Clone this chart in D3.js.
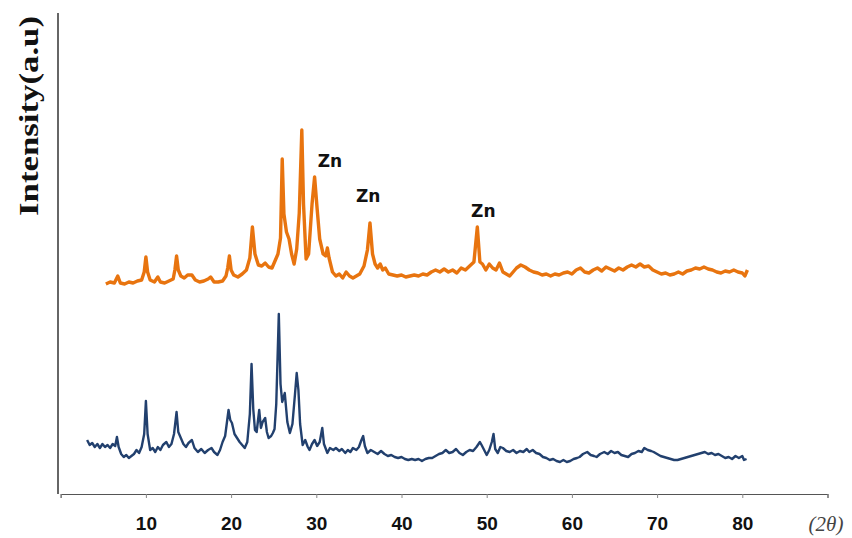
<!DOCTYPE html>
<html>
<head>
<meta charset="utf-8">
<script src="https://cdn.jsdelivr.net/npm/d3@7"></script>
<style>
  body { margin: 0; background: #fff; }
  svg { display: block; }
</style>
</head>
<body>
<svg></svg>
<script>
var width = 852;
var height = 538;

// orange pattern (top), [2theta, intensity]
var orangeData = [
  [5.3,210],[5.8,212],[6.3,211],[6.7,218],[7.0,211],[7.5,210],[8.0,212],[8.5,211],[9.0,213],[9.5,214],
  [9.8,222],[10.0,237],[10.2,222],[10.5,214],[11.0,212],[11.4,217],[11.7,212],[12.2,211],[12.7,213],[13.2,215],
  [13.4,224],[13.6,238],[13.8,224],[14.1,218],[14.5,216],[14.9,219],[15.4,219],[15.8,214],[16.3,212],[16.8,213],
  [17.3,215],[17.6,217],[18.0,212],[18.5,212],[19.0,213],[19.4,218],[19.6,226],[19.8,238],[20.0,224],[20.3,219],
  [20.8,217],[21.3,220],[21.8,224],[22.2,236],[22.5,267],[22.8,240],[23.2,229],[23.6,228],[24.0,231],[24.4,227],
  [24.8,226],[25.2,234],[25.5,240],[25.8,256],[26.0,335],[26.2,280],[26.5,262],[26.8,255],[27.1,240],[27.4,230],
  [27.7,245],[28.0,281],[28.3,364],[28.5,290],[28.8,235],[29.1,240],[29.5,290],[29.8,317],[30.1,285],[30.4,255],
  [30.8,240],[31.1,238],[31.3,246],[31.5,236],[31.9,222],[32.3,218],[32.7,220],[33.1,216],[33.5,222],[33.9,218],
  [34.3,216],[34.7,218],[35.1,220],[35.6,228],[36.0,244],[36.3,271],[36.6,240],[36.9,230],[37.2,226],[37.5,230],
  [37.8,224],[38.1,226],[38.5,220],[39.0,219],[39.5,218],[40.0,219],[40.5,217],[41.0,218],[41.5,219],[42.0,218],
  [42.5,220],[43.0,219],[43.5,222],[44.0,224],[44.5,222],[45.0,225],[45.5,222],[46.0,224],[46.5,221],[47.0,226],
  [47.5,224],[48.0,228],[48.5,232],[48.9,267],[49.2,232],[49.5,230],[49.9,224],[50.3,230],[50.7,226],[51.1,224],
  [51.5,231],[51.9,222],[52.3,220],[52.7,218],[53.1,222],[53.5,226],[54.0,229],[54.5,227],[55.0,224],[55.5,222],
  [56.0,221],[56.5,219],[57.0,220],[57.5,218],[58.0,220],[58.5,219],[59.0,221],[59.5,222],[60.0,220],[60.5,224],
  [61.0,226],[61.5,222],[62.0,221],[62.5,224],[63.0,226],[63.5,223],[64.0,227],[64.5,225],[65.0,223],[65.5,226],
  [66.0,224],[66.5,227],[67.0,229],[67.5,227],[68.0,230],[68.5,227],[69.0,228],[69.5,224],[70.0,222],[70.5,220],
  [71.0,221],[71.5,219],[72.0,220],[72.5,222],[73.0,220],[73.5,223],[74.0,224],[74.5,226],[75.0,225],[75.5,227],
  [76.0,225],[76.5,224],[77.0,222],[77.5,221],[78.0,223],[78.5,222],[79.0,224],[79.5,222],[80.0,221],[80.3,218],
  [80.6,224]
];

// blue pattern (bottom)
var blueData = [
  [3.1,54],[3.4,49],[3.7,51],[4.0,47],[4.3,50],[4.6,46],[4.9,50],[5.2,47],[5.5,49],[5.8,46],
  [6.1,50],[6.4,48],[6.6,57],[6.8,47],[7.1,40],[7.4,37],[7.7,39],[8.0,36],[8.3,38],[8.6,40],
  [8.9,44],[9.2,41],[9.5,47],[9.8,60],[10.0,93],[10.2,60],[10.5,44],[10.8,46],[11.1,42],[11.4,47],
  [11.7,44],[12.0,49],[12.4,52],[12.7,47],[13.0,50],[13.3,60],[13.6,82],[13.8,62],[14.1,56],[14.4,50],
  [14.7,47],[15.0,51],[15.4,54],[15.7,46],[16.1,42],[16.5,45],[16.9,41],[17.3,44],[17.7,46],[18.0,42],
  [18.4,39],[18.7,44],[19.0,52],[19.3,58],[19.7,84],[19.9,74],[20.1,71],[20.4,60],[20.7,56],[21.0,52],
  [21.3,49],[21.6,46],[21.9,52],[22.2,80],[22.4,130],[22.6,85],[22.8,64],[23.0,62],[23.3,84],[23.5,66],
  [23.7,72],[24.0,76],[24.2,62],[24.4,56],[24.7,58],[24.9,61],[25.1,65],[25.3,90],[25.6,180],[25.8,110],
  [26.0,92],[26.3,101],[26.6,72],[26.9,61],[27.2,70],[27.5,100],[27.7,121],[27.9,104],[28.1,70],[28.4,49],
  [28.7,54],[29.0,47],[29.2,44],[29.5,50],[29.8,54],[30.1,48],[30.4,52],[30.7,66],[30.9,50],[31.3,41],
  [31.6,46],[32.0,44],[32.3,46],[32.7,43],[33.0,45],[33.4,41],[33.7,44],[34.0,42],[34.3,46],[34.7,44],
  [35.0,47],[35.3,54],[35.5,58],[35.7,48],[36.0,41],[36.4,44],[36.8,42],[37.2,40],[37.6,43],[38.0,40],
  [38.4,38],[38.8,39],[39.2,37],[39.6,36],[40.0,37],[40.4,35],[40.8,34],[41.2,35],[41.6,34],[42.0,35],
  [42.4,33],[42.8,35],[43.2,36],[43.6,36],[44.0,38],[44.4,40],[44.8,41],[45.2,44],[45.6,41],[46.0,42],
  [46.4,45],[46.8,41],[47.2,39],[47.6,42],[48.0,44],[48.4,43],[48.8,47],[49.2,52],[49.4,49],[49.7,44],
  [50.0,39],[50.3,44],[50.6,52],[50.8,60],[51.0,45],[51.3,41],[51.6,47],[51.9,46],[52.3,43],[52.7,42],
  [53.1,44],[53.5,41],[53.9,43],[54.3,42],[54.7,45],[55.0,42],[55.4,44],[55.8,41],[56.2,40],[56.6,37],
  [57.0,36],[57.4,34],[57.8,35],[58.2,33],[58.6,32],[59.0,34],[59.4,32],[59.8,33],[60.2,35],[60.6,36],
  [60.9,37],[61.3,40],[61.8,42],[62.2,39],[62.6,38],[62.9,37],[63.3,40],[63.8,42],[64.2,40],[64.6,43],
  [65.0,41],[65.4,42],[65.8,39],[66.2,38],[66.6,37],[67.0,40],[67.4,41],[67.8,43],[68.2,42],[68.5,46],
  [68.9,44],[69.3,43],[69.6,42],[70.0,40],[70.4,38],[70.8,37],[71.2,36],[71.6,35],[72.0,34],[72.4,34],
  [72.8,35],[73.2,36],[73.6,37],[74.0,38],[74.4,39],[74.8,40],[75.2,41],[75.6,42],[76.0,40],[76.4,41],
  [76.8,39],[77.2,40],[77.6,38],[78.0,36],[78.4,37],[78.8,35],[79.2,38],[79.6,36],[80.0,38],[80.2,34],
  [80.5,35]
];

var xTicks = [0, 10, 20, 30, 40, 50, 60, 70, 80, 90];
var xLabels = ["", "10", "20", "30", "40", "50", "60", "70", "80", ""];

// Zn peak annotations (2theta, intensity of label baseline)
var znLabels = ["Zn", "Zn", "Zn"];
var znX = [31.6, 36.1, 49.6];
var znY = [327, 292, 277];

var svg = d3.select('svg')
    .attr('width', width)
    .attr('height', height);

var x = d3.scaleLinear().domain([0, 90]).range([60.7, 827.5]);
var y = d3.scaleLinear().domain([0, 480]).range([494, 14]);

var line = d3.line()
    .x(function (d) { return x(d[0]); })
    .y(function (d) { return y(d[1]); });

// y axis: plain line, no ticks
svg.append('line')
    .attr('x1', 58).attr('x2', 58)
    .attr('y1', y(481)).attr('y2', y(0))
    .attr('stroke', '#333')
    .attr('stroke-width', 1.5);

// x axis
var xAxis = d3.axisBottom(x)
    .tickValues(xTicks)
    .tickSize(4)
    .tickFormat(function (d, i) { return xLabels[i]; });

var gx = svg.append('g')
    .attr('transform', 'translate(0,' + y(0) + ')')
    .call(xAxis);

gx.select('.domain').attr('stroke', '#555').attr('stroke-width', 1.2);
gx.selectAll('.tick line').attr('stroke', '#888');
gx.selectAll('.tick text')
    .attr('dy', null)
    .attr('y', 36)
    .attr('fill', '#111')
    .style('font-family', 'Liberation Sans, Arial, sans-serif')
    .style('font-weight', 'bold')
    .style('font-size', '19px');

svg.append('text')
    .attr('x', 826)
    .attr('y', 531)
    .attr('text-anchor', 'middle')
    .attr('fill', '#444')
    .style('font-family', 'Liberation Serif, serif')
    .style('font-style', 'italic')
    .style('font-size', '21px')
    .text('(2θ)');

// y label
svg.append('text')
    .attr('transform', 'translate(38,116) rotate(-90)')
    .attr('text-anchor', 'middle')
    .attr('fill', '#111')
    .attr('textLength', 200)
    .attr('lengthAdjust', 'spacingAndGlyphs')
    .style('font-family', 'Liberation Serif, serif')
    .style('font-weight', 'bold')
    .style('font-size', '28px')
    .text('Intensity(a.u)');

// patterns
svg.append('path')
    .datum(blueData)
    .attr('d', line)
    .attr('fill', 'none')
    .attr('stroke', '#22406e')
    .attr('stroke-width', 2.4)
    .attr('stroke-linejoin', 'round');

svg.append('path')
    .datum(orangeData)
    .attr('d', line)
    .attr('fill', 'none')
    .attr('stroke', '#e8740f')
    .attr('stroke-width', 3.4)
    .attr('stroke-linejoin', 'round');

svg.selectAll('.zn')
    .data(znLabels)
    .enter()
    .append('text')
    .attr('class', 'zn')
    .attr('x', function (d, i) { return x(znX[i]); })
    .attr('y', function (d, i) { return y(znY[i]); })
    .attr('text-anchor', 'middle')
    .attr('fill', '#111')
    .style('font-family', 'DejaVu Sans, sans-serif')
    .style('font-weight', 'bold')
    .style('font-size', '17px')
    .text(function (d) { return d; });
</script>
</body>
</html>
